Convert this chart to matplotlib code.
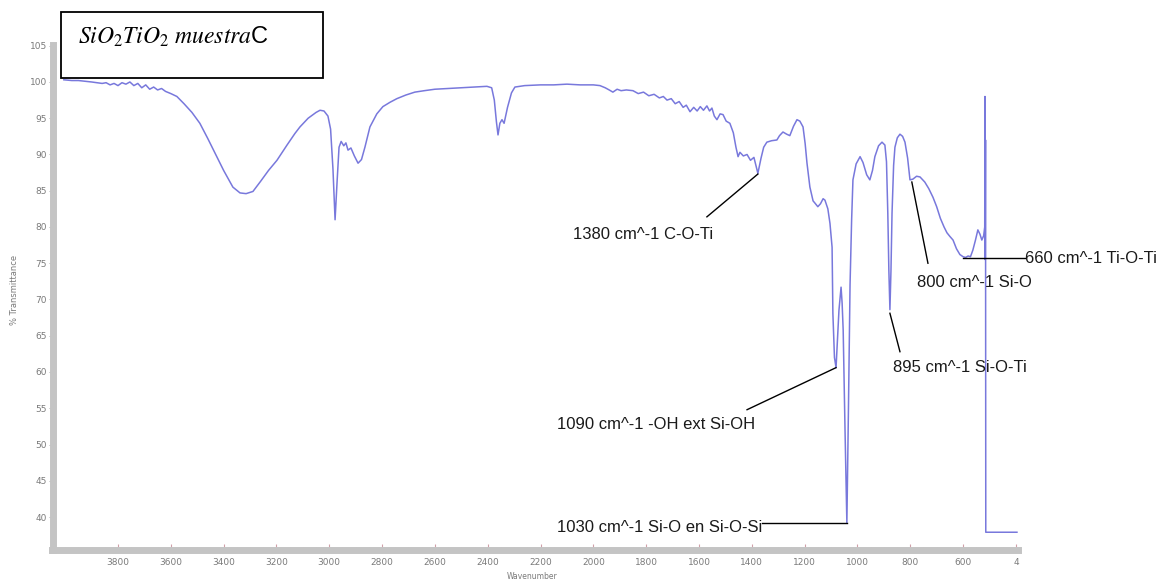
import matplotlib
matplotlib.use("Agg")
import matplotlib.pyplot as plt
from matplotlib.patches import Rectangle
from matplotlib.ticker import MultipleLocator

# --------------------------------------------------------------------------- #
# Spectrum data (wavenumber cm^-1, % transmittance)
# --------------------------------------------------------------------------- #
wavenumber = [
    4005, 3975, 3950, 3925, 3900, 3880, 3860, 3845, 3830, 3815, 3800, 3785,
    3770, 3755, 3740, 3725, 3710, 3695, 3680, 3665, 3650, 3635, 3620, 3600,
    3577, 3550, 3520, 3490, 3460, 3430, 3400, 3365, 3338, 3315, 3289, 3260,
    3230, 3198, 3160, 3130, 3111, 3080, 3050, 3035, 3020, 3005, 2995, 2986,
    2978, 2970, 2963, 2955, 2945, 2937, 2929, 2918, 2905, 2891, 2878, 2865,
    2846, 2820, 2797, 2770, 2744, 2710, 2676, 2640, 2600, 2550, 2500, 2450,
    2403, 2385, 2375, 2367, 2361, 2354, 2346, 2338, 2325, 2310, 2297, 2260,
    2200, 2150, 2100, 2050, 2000, 1975, 1955, 1940, 1926, 1910, 1895, 1875,
    1850, 1830, 1810, 1790, 1770, 1750, 1735, 1721, 1705, 1690, 1675, 1660,
    1648, 1634, 1620, 1607, 1595, 1583, 1570, 1560, 1551, 1542, 1532, 1520,
    1509, 1497, 1483, 1470, 1460, 1452, 1445, 1432, 1418, 1405, 1392, 1377,
    1365, 1355, 1343, 1325, 1305, 1295, 1282, 1268, 1256, 1242, 1229, 1218,
    1206, 1198, 1191, 1180, 1168, 1161, 1150, 1140, 1130, 1123, 1112, 1104,
    1096, 1093, 1087, 1081, 1077, 1070, 1062, 1058, 1054, 1047, 1040, 1034,
    1028, 1022, 1017, 1005, 990, 979, 965, 953, 943, 934, 920, 907,
    896, 890, 885, 881, 877, 873, 869, 863, 858, 849, 839, 829,
    820, 810, 801, 790, 776, 763, 745, 730, 714, 700, 686, 672,
    661, 650, 638, 625, 612, 600, 590, 581, 572, 563, 553, 544,
    536, 529, 522, 518, 517, 516, 515, 514, 460, 396,
]
transmittance = [
    100.3, 100.2, 100.2, 100.1, 100.0, 99.9, 99.8, 99.9, 99.6, 99.8, 99.5, 99.9,
    99.7, 100.0, 99.5, 99.8, 99.2, 99.6, 99.0, 99.3, 98.9, 99.1, 98.7, 98.4,
    98.0, 97.0, 95.8, 94.3, 92.2, 90.0, 87.8, 85.5, 84.7, 84.6, 84.9, 86.3,
    87.8, 89.2, 91.3, 92.9, 93.8, 95.0, 95.8, 96.1, 96.0, 95.3, 93.5, 88.0,
    81.0, 86.5, 91.0, 91.8, 91.2, 91.6, 90.6, 90.9, 89.8, 88.8, 89.3, 91.0,
    93.8, 95.6, 96.6, 97.2, 97.7, 98.2, 98.6, 98.8, 99.0, 99.1, 99.2, 99.3,
    99.4, 99.2, 97.5, 94.5, 92.7, 94.3, 94.8, 94.3, 96.5, 98.5, 99.3, 99.5,
    99.6, 99.6, 99.7, 99.6, 99.6, 99.5, 99.2, 98.9, 98.6, 99.0, 98.8, 98.9,
    98.8, 98.4, 98.6, 98.1, 98.3, 97.8, 98.0, 97.5, 97.7, 97.0, 97.3, 96.5,
    96.8, 95.9, 96.5, 96.0, 96.6, 96.1, 96.7, 96.0, 96.4, 95.3, 94.8, 95.6,
    95.5, 94.6, 94.3, 93.0, 91.0, 89.7, 90.3, 89.8, 90.0, 89.2, 89.6, 87.4,
    89.5, 91.0, 91.7, 91.9, 92.0, 92.6, 93.1, 92.8, 92.6, 93.9, 94.8, 94.6,
    93.8, 91.5, 88.8, 85.5, 83.6, 83.3, 82.8, 83.2, 83.9, 83.7, 82.5, 80.5,
    77.2, 68.1, 62.0, 60.6, 63.5, 68.5, 71.7, 69.5, 65.8, 52.0, 39.2, 55.0,
    72.0, 81.0, 86.5, 88.7, 89.7, 88.9, 87.2, 86.5, 87.8, 89.7, 91.2, 91.7,
    91.3, 89.0, 81.9, 74.0, 68.6, 74.0, 81.9, 88.5, 91.0, 92.3, 92.8, 92.5,
    91.7, 89.5, 86.5, 86.6, 87.0, 86.9, 86.2, 85.3, 84.1, 82.8, 81.2, 80.0,
    79.2, 78.7, 78.2, 77.0, 76.2, 75.9, 75.8, 76.0, 75.9, 76.8, 78.2, 79.6,
    79.0, 78.2, 78.8, 80.0, 98.0, 75.5, 92.0, 37.9, 37.9, 37.9,
]

# Peak annotations: label, peak (wn, T), line start (wn, T), text anchor (wn, T)
ann_labels = [
    "1380 cm^-1 C-O-Ti",
    "1090 cm^-1 -OH ext Si-OH",
    "895 cm^-1 Si-O-Ti",
    "800 cm^-1 Si-O",
    "660 cm^-1 Ti-O-Ti",
]
ann_peaks = [(1377, 87.3), (1081, 60.6), (877, 68.1), (794, 86.2), (600, 75.7)]
ann_starts = [(1570, 81.4), (1418, 54.8), (839, 62.8), (733, 75.0), (366, 75.7)]
ann_text = [(1812, 78.9), (1388, 52.7), (866, 60.6), (775, 72.4), (366, 75.7)]
ann_ha = ["center", "right", "left", "left", "left"]

label_1030 = "1030 cm^-1 Si-O en Si-O-Si"
peak_1030 = (1040, 39.2)
text_1030 = (1362, 38.6)

LINE_COLOR = "#7878dc"
SPINE_COLOR = "#c4c4c4"
TICK_COLOR = "#7a7a7a"

# serif italic maths, upright sans for the trailing "C" of the sample name
plt.rcParams.update({
    "mathtext.fontset": "custom",
    "mathtext.rm": "STIXGeneral",
    "mathtext.it": "STIXGeneral:italic",
    "mathtext.bf": "STIXGeneral:bold",
    "mathtext.sf": "Liberation Sans",
})

W, H = 1171, 582
fig = plt.figure(figsize=(W / 100, H / 100), dpi=100)
ax = fig.add_axes([52.5 / W, 1 - 550 / H, (1018 - 52.5) / W, (550 - 45) / H])

ax.plot(wavenumber, transmittance, color=LINE_COLOR, lw=1.1, zorder=3)
ax.set_xlim(4048, 392)
ax.set_ylim(35.45, 105.1)

# --- spines: thick grey bands on left and bottom only ---
for side in ("top", "right"):
    ax.spines[side].set_visible(False)
for side in ("left", "bottom"):
    ax.spines[side].set_color(SPINE_COLOR)
    ax.spines[side].set_linewidth(5)

ax.set_xticks(range(3800, 399, -200))
ax.xaxis.set_minor_locator(MultipleLocator(50))
ax.yaxis.set_major_locator(MultipleLocator(5))
ax.xaxis.set_major_formatter(lambda v, p: "4" if v == 400 else f"{v:.0f}")
ax.tick_params(axis="x", which="major", direction="in", length=4, width=0.8,
               color="#d0a0a8", labelsize=6.5, labelcolor=TICK_COLOR, pad=6)
ax.tick_params(axis="x", which="minor", direction="in", length=2, width=0.6,
               color="#d0a0a8")
ax.tick_params(axis="y", direction="out", length=3, width=0.7, color="#b0b0b0",
               labelsize=6.5, labelcolor=TICK_COLOR, pad=1)
ax.set_xlabel("Wavenumber", fontsize=5.5, color=TICK_COLOR, va="center")
ax.set_ylabel("% Transmittance", fontsize=6, color=TICK_COLOR, va="center")
ax.xaxis.set_label_coords(0.497, -0.052)
ax.yaxis.set_label_coords(-0.039, 0.515)

# --- peak annotations ---
txt_kw = dict(fontsize=12, family="Liberation Sans", color="#1a1a1a",
              va="center", clip_on=False)
for label, peak, start, pos, ha in zip(ann_labels, ann_peaks, ann_starts,
                                       ann_text, ann_ha):
    ax.plot([start[0], peak[0]], [start[1], peak[1]], color="black", lw=1,
            zorder=4, clip_on=False)
    ax.text(pos[0], pos[1], label, ha=ha, **txt_kw)

ax.text(text_1030[0], text_1030[1], label_1030, ha="right", **txt_kw)
ax.plot([text_1030[0], peak_1030[0]], [peak_1030[1], peak_1030[1]],
        color="black", lw=1, zorder=4)

# --- sample name box ---
fig.patches.append(Rectangle((61 / W, 1 - 78 / H), 262 / W, 66 / H,
                             transform=fig.transFigure, fill=True,
                             facecolor="white", edgecolor="black", lw=1.3,
                             zorder=10))
fig.text(78 / W, 1 - 37 / H, r"$SiO_2TiO_2\ muestra\mathsf{C}$", fontsize=17,
         va="center", ha="left", zorder=11)

fig.savefig("out.png", dpi=100)
